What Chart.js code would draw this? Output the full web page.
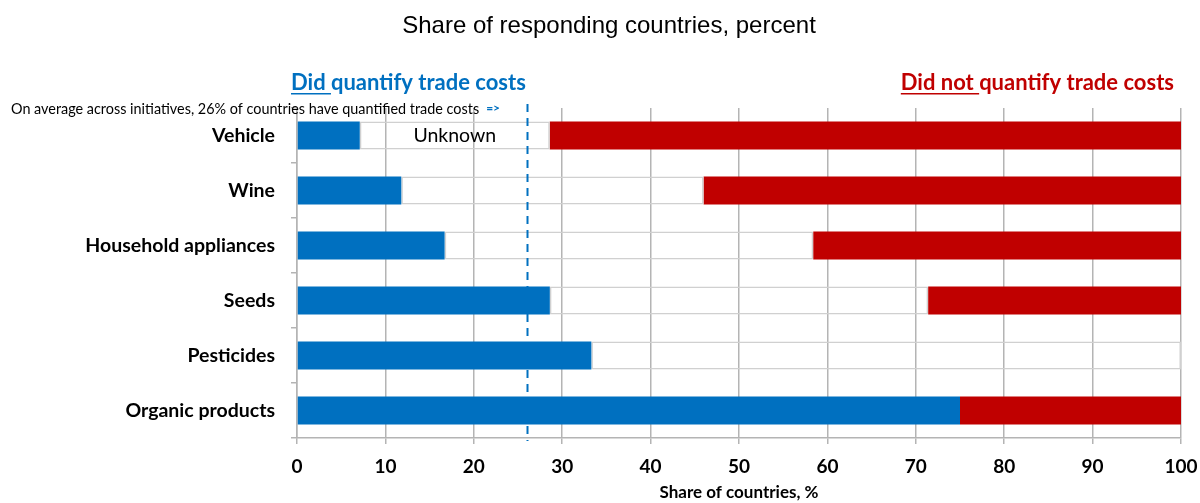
<!DOCTYPE html>
<html>
<head>
<meta charset="utf-8">
<script src="https://cdn.jsdelivr.net/npm/chart.js@4.4.1/dist/chart.umd.min.js"></script>
<style>
  html, body { margin: 0; padding: 0; background: #fff; }
  #wrap { width: 1200px; height: 503px; }
</style>
</head>
<body>
<div id="wrap"><canvas id="tradeChart"></canvas></div>
<script>
const categories = ['Vehicle', 'Wine', 'Household appliances', 'Seeds', 'Pesticides', 'Organic products'];
const didQuantify = [7.1, 11.8, 16.7, 28.6, 33.3, 75.0];
const unknown = [21.5, 34.2, 41.7, 42.8, 66.7, 0];
const didNotQuantify = [71.4, 54.0, 41.6, 28.6, 0, 25.0];
const averageQuantified = 26;
const xTicks = [0, 10, 20, 30, 40, 50, 60, 70, 80, 90, 100];

const BLUE = '#0070C0';
const RED = '#C00000';
const FONT = 'Lato, "Open Sans", sans-serif';

// headers, average note, dashed average line and the "Unknown" tag
const overlay = {
  id: 'overlay',
  afterDatasetsDraw(chart) {
    const { ctx, chartArea, scales } = chart;
    ctx.save();

    ctx.fillStyle = '#000';
    ctx.font = '24px "Liberation Sans", Arial, sans-serif';
    ctx.textAlign = 'center';
    ctx.textBaseline = 'middle';
    ctx.fillText('Share of responding countries, percent', 609, 26);

    const header = (x, under, rest, color) => {
      ctx.font = 'bold 22px ' + FONT;
      ctx.fillStyle = color;
      ctx.textAlign = 'left';
      ctx.textBaseline = 'alphabetic';
      ctx.fillText(under, x, 90);
      const w = ctx.measureText(under).width;
      ctx.fillRect(x, 93, w, 1.5);
      ctx.fillText(rest, x + w, 90);
    };
    header(291, 'Did ', 'quantify trade costs', BLUE);
    ctx.font = 'bold 22px ' + FONT;
    const redW = ctx.measureText('Did not quantify trade costs').width;
    header(1174 - redW, 'Did not ', 'quantify trade costs', RED);

    ctx.font = '14.4px ' + FONT;
    ctx.fillStyle = '#000';
    ctx.textBaseline = 'middle';
    const note = 'On average across initiatives, 26% of countries have quantified trade costs';
    ctx.fillText(note, 11, 109);
    const nw = ctx.measureText(note).width;
    ctx.font = 'bold 12px ' + FONT;
    ctx.fillStyle = BLUE;
    ctx.fillText('=>', 11 + nw + 7, 108);

    const x = Math.round(scales.x.getPixelForValue(averageQuantified)) + 0.5;
    ctx.strokeStyle = BLUE;
    ctx.lineWidth = 2;
    ctx.setLineDash([8, 6]);
    ctx.beginPath();
    ctx.moveTo(x, chartArea.top - 4);
    ctx.lineTo(x, chartArea.bottom + 3);
    ctx.stroke();
    ctx.setLineDash([]);

    const bar = chart.getDatasetMeta(1).data[0];
    ctx.font = '19.5px ' + FONT;
    ctx.fillStyle = '#000';
    ctx.textAlign = 'center';
    ctx.fillText('Unknown', (bar.base + bar.x) / 2, bar.y);

    ctx.restore();
  }
};

new Chart(document.getElementById('tradeChart'), {
  type: 'bar',
  data: {
    labels: categories,
    datasets: [
      {
        label: 'Did quantify trade costs',
        data: didQuantify,
        backgroundColor: BLUE,
        borderWidth: 0,
        barPercentage: 1,
        categoryPercentage: 0.51
      },
      {
        label: 'Unknown',
        data: unknown,
        backgroundColor: 'rgba(255,255,255,0)',
        borderColor: '#d0d0d0',
        borderWidth: 1.5,
        borderSkipped: false,
        barPercentage: 1,
        categoryPercentage: 0.51
      },
      {
        label: 'Did not quantify trade costs',
        data: didNotQuantify,
        backgroundColor: RED,
        borderWidth: 0,
        barPercentage: 1,
        categoryPercentage: 0.51
      }
    ]
  },
  options: {
    indexAxis: 'y',
    responsive: true,
    maintainAspectRatio: false,
    animation: false,
    layout: { padding: { top: 108, right: 19, bottom: 0, left: 0 } },
    plugins: {
      legend: { display: false },
      tooltip: { enabled: false }
    },
    scales: {
      x: {
        stacked: true,
        min: 0,
        max: 100,
        afterFit: s => {
          s.height = 65;
          s.paddingLeft = 0;
          s.paddingRight = 0;
        },
        afterBuildTicks: s => { s.ticks = xTicks.map(v => ({ value: v })); },
        grid: { color: '#b4b4b4', lineWidth: 1.5, tickLength: 6 },
        border: { color: '#b4b4b4', width: 1.5 },
        ticks: {
          color: '#000',
          font: { family: FONT, size: 19, weight: 'bold' },
          padding: 11
        },
        title: {
          display: true,
          text: 'Share of countries, %',
          color: '#000',
          font: { family: FONT, size: 17, weight: 'bold' },
          padding: { top: 1, bottom: 0 }
        }
      },
      y: {
        stacked: true,
        afterFit: s => { s.width = 297; },
        grid: {
          offset: true,
          drawOnChartArea: false,
          color: '#b4b4b4',
          lineWidth: 1.5,
          tickLength: 6
        },
        border: { color: '#b4b4b4', width: 1.5 },
        ticks: {
          color: '#000',
          font: { family: FONT, size: 19.5, weight: 'bold' },
          padding: 16
        }
      }
    }
  },
  plugins: [overlay]
});
</script>
</body>
</html>
